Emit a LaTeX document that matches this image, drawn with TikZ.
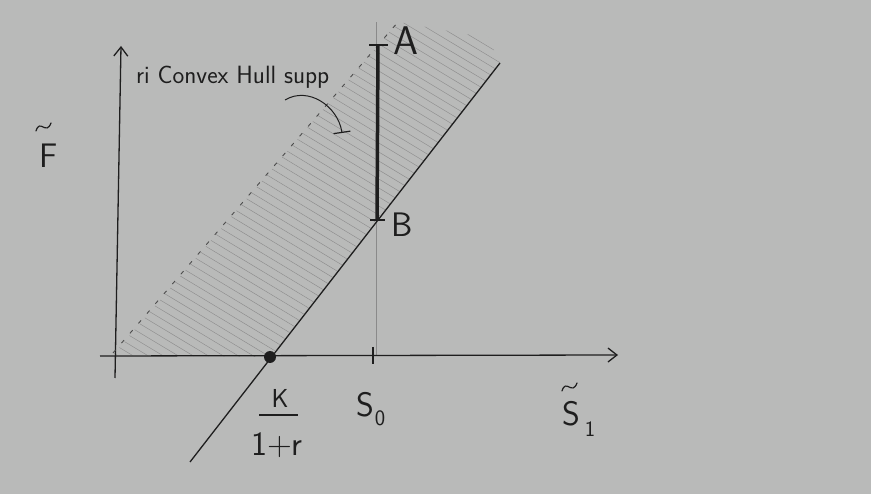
\documentclass[tikz,border=0pt]{standalone}
\usepackage{fontspec}
\usetikzlibrary{arrows.meta}
\definecolor{paper}{RGB}{185,186,185}
\definecolor{ink}{RGB}{30,30,30}
\definecolor{hatch}{RGB}{138,138,138}
\begin{document}
\begin{tikzpicture}[x=1pt,y=-1pt,
  inkline/.style={draw=ink,line width=1.3pt},
  axisline/.style={inkline,-{Straight Barb[length=9pt,width=14pt]}},
  tildestroke/.style={draw=ink,line width=1.2pt,line cap=round},
  lbl/.style={text=ink,inner sep=0pt,font=\sffamily\fontsize{34}{36}\selectfont},
  sublbl/.style={text=ink,inner sep=0pt,font=\sffamily\fontsize{22}{24}\selectfont}]
\fill[paper] (0,0) rectangle (871,494);
\useasboundingbox (0,0) rectangle (871,494);
% key points
\coordinate (ytop) at (121,46);
\coordinate (ybot) at (115,378);
\coordinate (xleft) at (100,356);
\coordinate (xtop) at (618,355);
\coordinate (Lbot) at (190,462);
\coordinate (Ltop) at (500,63);
\coordinate (D0) at (113,353);
\coordinate (D1) at (398,22);
\coordinate (K) at (270,357);
\coordinate (Avert) at (378,45);
\coordinate (Bvert) at (377,220);
% hatched region
\begin{scope}
\clip (113,355) -- (270,357) -- (500,63) -- (488,38) -- (398,22) -- cycle;
\foreach \c in {-300,-291,...,310}
  \draw[hatch,line width=0.4pt] (0,\c) -- (871,\c+522);
\end{scope}
% thin vertical at S0
\draw[hatch,line width=0.4pt] (376,356) -- (376,22);
% axes
\draw[axisline] (ybot) -- (ytop);
\draw[axisline] (xleft) -- (xtop);
% dashed boundary
\draw[draw=ink!80,line width=0.9pt,dash pattern=on 4pt off 9pt] (D0) -- (D1);
% solid line
\draw[inkline] (Lbot) -- (Ltop);
% K/(1+r) dot
\fill[ink] (K) circle (6);
% S0 tick
\draw[inkline] (373,347) -- (373,364);
% thick segment AB
\draw[draw=ink,line width=3.5pt] (Avert) -- (Bvert);
\draw[inkline] (369,45) -- (388,45);
\draw[inkline] (370,220) -- (385,220);
% labels
\node[lbl,font=\sffamily\fontsize{40}{42}\selectfont] (A) at (406,41) {A};
\node[lbl] (B) at (402,225) {B};
\node[lbl,font=\sffamily\fontsize{25}{27}\selectfont,anchor=west] (ri) at (136,77) {ri Convex Hull supp};
\coordinate (arrs) at (285,100);
\coordinate (arre) at (342,133);
\draw[ink,line width=1pt,-{Bar[width=17pt,line width=1.2pt]}] (arrs) .. controls (308,86) and (338,106) .. (arre);
% F tilde
\node[lbl] (F) at (49,156) {F};
\draw[tildestroke] (36,131) .. controls (40,118) and (46,136) .. (51,123);
% S1 tilde
\node[lbl] (S1) at (571,414) {S};
\node[sublbl] (one) at (590,429) {1};
\draw[tildestroke] (562,391) .. controls (566,378) and (572,396) .. (577,383);
% S0
\node[lbl] (S0) at (365,405) {S};
\node[sublbl] (zero) at (380,418) {0};
% K over 1+r
\node[lbl,font=\sffamily\fontsize{26}{28}\selectfont] (Kn) at (280,398) {K};
\draw[inkline] (259,415) -- (298,415);
\node[lbl] (onepr) at (277,445) {1+r};
\end{tikzpicture}
\end{document}
